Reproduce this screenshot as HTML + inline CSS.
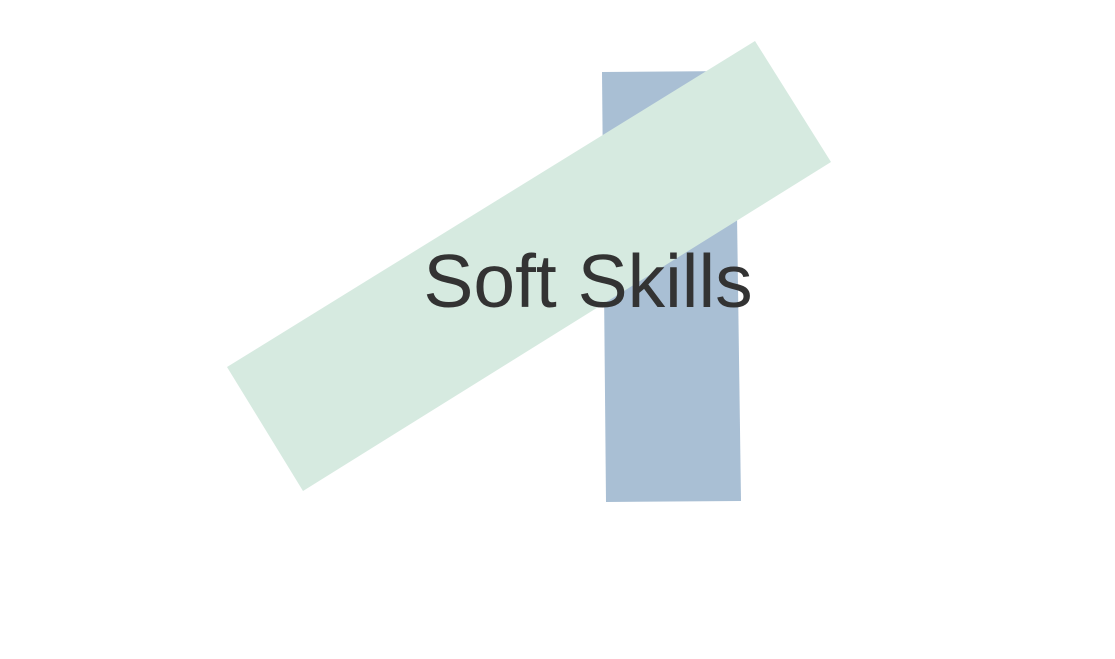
<!DOCTYPE html>
<html>
<head>
<meta charset="utf-8">
<style>
  html,body{margin:0;padding:0;background:#fff;}
  svg{display:block;}
</style>
</head>
<body>
<svg width="1115" height="659" viewBox="0 0 1115 659">
  <rect x="0" y="0" width="1115" height="659" fill="#ffffff"/>
  <polygon points="602,72 735,71 741,501 606,502" fill="#a9bfd4"/>
  <polygon points="755,41 831,162 303,491 227,367" fill="#d6eae0"/>
  <text x="588" y="307" text-anchor="middle" font-family="Liberation Sans, Arial, sans-serif" font-size="75" fill="#333333">Soft Skills</text>
</svg>
</body>
</html>
